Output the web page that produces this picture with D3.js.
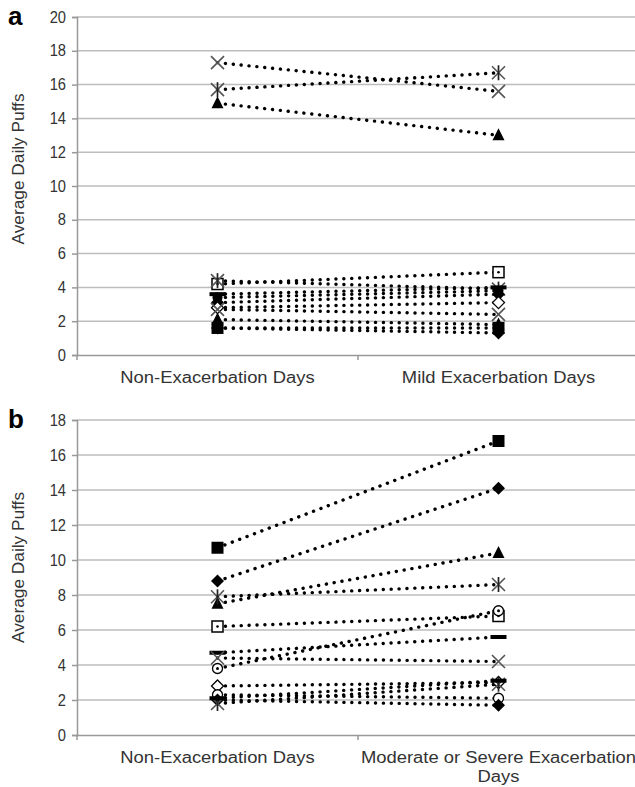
<!DOCTYPE html>
<html>
<head>
<meta charset="utf-8">
<script src="https://cdn.jsdelivr.net/npm/d3@7"></script>
<style>
  body { margin: 0; background: #fff; }
  svg text { font-family: "Liberation Sans", Arial, sans-serif; }
</style>
</head>
<body>
<svg id="chart" width="635" height="787"></svg>
<script>
// panel a
var categoriesA = ['Non-Exacerbation Days', 'Mild Exacerbation Days'];
var ticksA = [0, 2, 4, 6, 8, 10, 12, 14, 16, 18, 20];
var markersA = ['x', 'asterisk', 'triangle', 'openSquare', 'asterisk', 'dash', 'circle', 'diamond', 'openDiamond', 'x', 'triangle', 'square', 'diamond'];
var nonExacA = [17.3, 15.7, 14.9, 4.2, 4.4, 3.6, 3.4, 3.1, 2.8, 2.7, 2.1, 1.6, 1.6];
var mildA    = [15.6, 16.7, 13.0, 4.9, 3.9, 4.0, 3.8, 3.6, 3.1, 2.4, 1.8, 1.6, 1.3];

// panel b
var categoriesB = ['Non-Exacerbation Days', 'Moderate or Severe Exacerbation Days'];
var ticksB = [0, 2, 4, 6, 8, 10, 12, 14, 16, 18];
var markersB = ['square', 'diamond', 'triangle', 'asterisk', 'openSquare', 'circleDot', 'dash', 'x', 'openDiamond', 'openCircle', 'diamond', 'asterisk', 'dash'];
var nonExacB = [10.7, 8.8, 7.5, 7.9, 6.2, 3.8, 4.7, 4.4, 2.8, 2.3, 2.0, 1.8, 2.1];
var modSevB  = [16.8, 14.1, 10.4, 8.6, 6.8, 7.1, 5.6, 4.2, 3.0, 2.1, 1.7, 2.9, 3.1];

var svg = d3.select('#chart');

function drawMarker(g, type, x, y) {
  var m = g.append('g').attr('transform', 'translate(' + x + ',' + y + ')');
  if (type == 'square') {
    m.append('rect').attr('x', -6).attr('y', -6).attr('width', 12).attr('height', 12).attr('fill', '#000');
  } else if (type == 'openSquare') {
    m.append('rect').attr('x', -5.5).attr('y', -5.5).attr('width', 11).attr('height', 11)
      .attr('fill', '#fff').attr('stroke', '#000').attr('stroke-width', 1.5);
    m.append('circle').attr('r', 1.3).attr('fill', '#000');
  } else if (type == 'diamond') {
    m.append('path').attr('d', 'M0,-6.5L6.5,0L0,6.5L-6.5,0Z').attr('fill', '#000');
  } else if (type == 'openDiamond') {
    m.append('path').attr('d', 'M0,-6L6,0L0,6L-6,0Z').attr('fill', '#fff')
      .attr('stroke', '#000').attr('stroke-width', 1.3);
  } else if (type == 'triangle') {
    m.append('path').attr('d', 'M0,-7L6,5L-6,5Z').attr('fill', '#000');
  } else if (type == 'circle') {
    m.append('circle').attr('r', 5).attr('fill', '#000');
  } else if (type == 'openCircle' || type == 'circleDot') {
    m.append('circle').attr('r', 5).attr('fill', '#fff').attr('stroke', '#000').attr('stroke-width', 1.3);
    if (type == 'circleDot') m.append('circle').attr('r', 1.5).attr('fill', '#000');
  } else if (type == 'dash') {
    m.append('rect').attr('x', -8).attr('y', -2).attr('width', 16).attr('height', 4).attr('fill', '#000');
  } else if (type == 'x' || type == 'asterisk') {
    var s = 6.5;
    m.append('path').attr('d', 'M' + -s + ',' + -s + 'L' + s + ',' + s + 'M' + -s + ',' + s + 'L' + s + ',' + -s)
      .attr('stroke', '#555').attr('stroke-width', 1.6).attr('fill', 'none');
    if (type == 'asterisk') {
      m.append('path').attr('d', 'M0,' + (-s - 1) + 'L0,' + (s + 1))
        .attr('stroke', '#222').attr('stroke-width', 1.7).attr('fill', 'none');
    }
  }
}

function stretch(sel, k) {
  sel.each(function() {
    var len = this.getComputedTextLength();
    d3.select(this).attr('textLength', len * k).attr('lengthAdjust', 'spacingAndGlyphs');
  });
}

function panel(opt) {
  var g = svg.append('g');
  var x = d3.scaleBand().domain(opt.categories).range([77, 639]);
  var y = d3.scaleLinear().domain([0, opt.ticks[opt.ticks.length - 1]]).range([opt.bottom, opt.top]);

  // grid
  g.append('g').selectAll('line').data(opt.ticks.slice(1)).enter().append('line')
    .attr('x1', 77).attr('x2', 639)
    .attr('y1', function(d) { return y(d); }).attr('y2', function(d) { return y(d); })
    .attr('stroke', '#bdbdbd').attr('stroke-width', 1.5);

  var yAxis = g.append('g').attr('transform', 'translate(77,0)')
    .call(d3.axisLeft(y).tickValues(opt.ticks).tickSize(5).tickPadding(6));
  yAxis.select('.domain').attr('stroke', '#999').attr('stroke-width', 1.5);
  yAxis.selectAll('.tick line').attr('stroke', '#999').attr('stroke-width', 1.5);
  yAxis.selectAll('.tick text').attr('font-size', 16).attr('fill', '#333')
    .attr('font-family', '"Liberation Sans", Arial, sans-serif');
  stretch(yAxis.selectAll('.tick text'), 0.92);

  var xAxis = g.append('g').attr('transform', 'translate(0,' + opt.bottom + ')')
    .call(d3.axisBottom(x).tickSize(0).tickFormat(''));
  xAxis.select('.domain').attr('stroke', '#999').attr('stroke-width', 1.5);
  // category separators
  g.append('g').selectAll('line').data([77, 77 + x.bandwidth(), 639]).enter().append('line')
    .attr('x1', function(d) { return d; }).attr('x2', function(d) { return d; })
    .attr('y1', opt.bottom).attr('y2', opt.bottom + 5)
    .attr('stroke', '#999').attr('stroke-width', 1.5);

  // category labels (wrapped to band width)
  opt.categories.forEach(function(c, i) {
    var cx = x(c) + x.bandwidth() / 2;
    var lines = opt.wrap[i];
    lines.forEach(function(l, j) {
      var t = g.append('text').attr('x', cx).attr('y', opt.bottom + 28 + j * 19)
        .attr('text-anchor', 'middle').attr('font-size', 16).attr('fill', '#333').text(l);
      stretch(t, 1.15);
    });
  });

  // y title
  var yt = g.append('text')
    .attr('transform', 'translate(24,' + ((opt.top + opt.bottom) / 2 - opt.titleShift) + ') rotate(-90)')
    .attr('text-anchor', 'middle').attr('font-size', 16).attr('fill', '#333')
    .text('Average  Daily Puffs');
  stretch(yt, 1.08);

  // panel letter
  g.append('text').attr('x', 8).attr('y', opt.top + 8).attr('font-size', 26)
    .attr('font-weight', 'bold').attr('fill', '#000').text(opt.letter);

  // series lines
  var cx0 = x(opt.categories[0]) + x.bandwidth() / 2;
  var cx1 = x(opt.categories[1]) + x.bandwidth() / 2;
  opt.left.forEach(function(v, i) {
    g.append('line').attr('x1', cx0).attr('y1', y(v)).attr('x2', cx1).attr('y2', y(opt.right[i]))
      .attr('stroke', '#000').attr('stroke-width', 3.4).attr('stroke-linecap', 'round')
      .attr('stroke-dasharray', '0.1,7.8');
  });
  opt.left.forEach(function(v, i) {
    drawMarker(g, opt.markers[i], cx0, y(v));
    drawMarker(g, opt.markers[i], cx1, y(opt.right[i]));
  });
}

panel({ letter: 'a', categories: categoriesA, ticks: ticksA, top: 17, bottom: 355, titleShift: 17,
  wrap: [['Non-Exacerbation Days'], ['Mild Exacerbation Days']],
  markers: markersA, left: nonExacA, right: mildA });

panel({ letter: 'b', categories: categoriesB, ticks: ticksB, top: 420, bottom: 735, titleShift: 10,
  wrap: [['Non-Exacerbation Days'], ['Moderate or Severe Exacerbation', 'Days']],
  markers: markersB, left: nonExacB, right: modSevB });
</script>
</body>
</html>
